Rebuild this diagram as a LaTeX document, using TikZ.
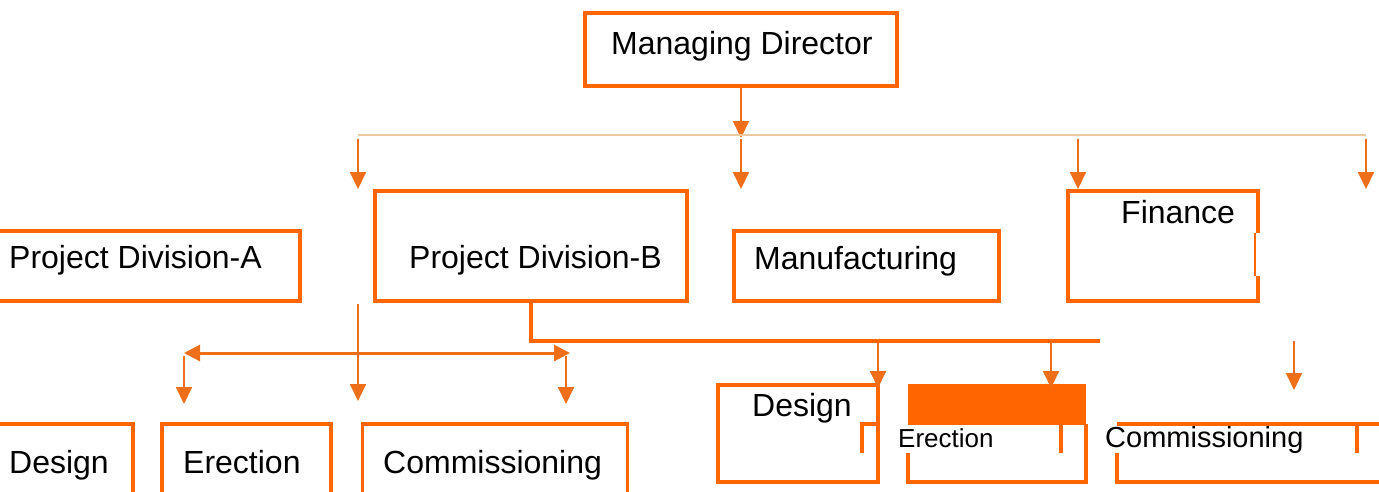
\documentclass[tikz,border=0pt]{standalone}
\usepackage{fontspec}
\setmainfont{Liberation Sans}
\usetikzlibrary{arrows.meta}
\definecolor{boxorange}{RGB}{255,102,0}
\definecolor{arrorange}{RGB}{238,110,25}
\definecolor{buspale}{RGB}{238,200,160}
\begin{document}
\begin{tikzpicture}[x=1pt,y=-1pt,
		box/.style={draw=boxorange,line width=3.5pt,inner sep=0pt},
		txt/.style={font=\fontsize{32}{38}\selectfont,inner sep=0pt,anchor=base west},
		smalltxt/.style={font=\fontsize{26}{31}\selectfont,inner sep=0pt,anchor=base west},
		arr/.style={draw=arrorange,line width=2pt,-{Triangle[length=17pt,width=16pt]}},
		link/.style={draw=boxorange,line width=3.5pt}]
			\useasboundingbox (0,0) rectangle (1379,491);
			\clip (0,0) rectangle (1379,491);
			% top level
			\node[box,minimum width=312pt,minimum height=73pt] (md) at (741,49.5) {};
			\node[txt] (mdtext) at (611,54) {Managing Director};
			\coordinate (mdbus) at (741,138);
			\draw[arr] (md.south) -- (mdbus);
			\coordinate (busL) at (358,135);
			\coordinate (busR) at (1366,135);
			\draw[buspale,line width=2pt] (busL) -- (busR);
			\foreach \x/\n in {358/a,741/b,1078/c,1366/d}{
				\coordinate (bt\n) at (\x,139);
				\coordinate (bh\n) at (\x,189);
				\draw[arr] (bt\n) -- (bh\n);
			}
			% second level
			\node[box,minimum width=310pt,minimum height=70pt] (pda) at (145,266) {};
			\node[txt] (pdatext) at (9,268) {Project Division-A};
			\node[box,minimum width=312pt,minimum height=110pt] (pdb) at (531,246) {};
			\node[txt] (pdbtext) at (409,268) {Project Division-B};
			\node[box,minimum width=265pt,minimum height=70pt] (mfg) at (866.5,266) {};
			\node[txt] (mfgtext) at (754,269) {Manufacturing};
			\node[box,minimum width=190pt,minimum height=110pt] (fin) at (1163,246) {};
			\draw[white,line width=4.5pt] (1258,233) -- (1258,276);
			\draw[boxorange,line width=2.5pt] (1255,233) -- (1255,276);
			\node[txt] (fintext) at (1121,223) {Finance};
			% left branch
			\coordinate (lt) at (358,304);
			\coordinate (lh) at (358,401);
			\draw[arr] (lt) -- (lh);
			\coordinate (dl) at (184,353);
			\coordinate (dr) at (570,353);
			\draw[draw=arrorange,line width=3pt,{Triangle[length=16pt,width=16pt]}-{Triangle[length=16pt,width=16pt]}] (dl) -- (dr);
			\coordinate (llt) at (184,356);
			\coordinate (llh) at (184,404);
			\draw[arr] (llt) -- (llh);
			\coordinate (rrt) at (566,356);
			\coordinate (rrh) at (566,404);
			\draw[arr] (rrt) -- (rrh);
			\node[box,minimum width=140pt,minimum height=100pt] (desa) at (63,474) {};
			\node[txt] (desatext) at (9,473) {Design};
			\node[box,minimum width=169pt,minimum height=100pt] (erea) at (246.5,474) {};
			\node[txt] (ereatext) at (183,473) {Erection};
			\node[box,minimum width=265pt,minimum height=100pt] (coma) at (495,474) {};
			\node[txt] (comatext) at (383,473) {Commissioning};
			% right branch
			\coordinate (rbus) at (1100,341);
			\draw[link] (pdb.south) |- (rbus);
			\node[box,minimum width=160pt,minimum height=97pt] (desb) at (798,433.5) {};
			\draw[link] (862,453) |- (878,424);
			\node[txt] (desbtext) at (752,416) {Design};
			\fill[boxorange] (908,384) rectangle (1086,425);
			\draw[link] (908,453) |- (1086,482) -- (1086,424);
			\draw[link] (1061,424) -- (1061,453);
			\node[smalltxt] (erebtext) at (898,447) {Erection};
			\draw[link] (1117,424) -- (1385,424);
			\draw[link] (1117,453) |- (1385,482);
			\draw[link] (1357,424) -- (1357,453);
			\node[smalltxt,font=\fontsize{29}{34}\selectfont] (combtext) at (1105,447) {Commissioning};
			\foreach \x/\n in {878/a,1051/b}{
				\coordinate (rt\n) at (\x,343);
				\coordinate (rh\n) at (\x,388);
				\draw[arr] (rt\n) -- (rh\n);
			}
			\coordinate (ct) at (1294,341);
			\coordinate (ch) at (1294,390);
			\draw[arr] (ct) -- (ch);
		\end{tikzpicture}
\end{document}
